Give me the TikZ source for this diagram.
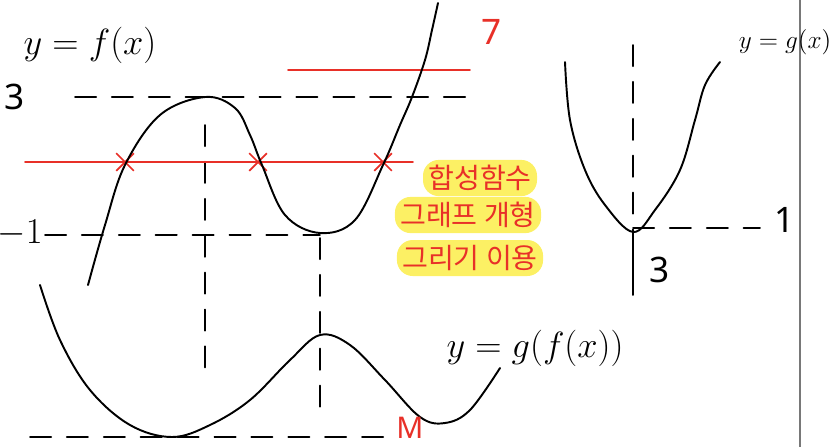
\documentclass[tikz,border=0pt]{standalone}
\usepackage{fontspec}
\setmainfont{Noto Sans}
\newfontfamily\krfont{Noto Sans CJK KR}
\usetikzlibrary{shapes.misc}
\definecolor{penred}{RGB}{232,48,40}
\definecolor{marker}{RGB}{252,240,100}
\definecolor{sheetline}{RGB}{120,120,120}

\begin{document}
\begin{tikzpicture}[
    x=0.02cm, y=-0.02cm,
    curve/.style={line width=1.1pt, line cap=round, line join=round},
    guide/.style={curve, dash pattern=on 12pt off 9pt},
    redline/.style={curve, draw=penred},
    hand/.style={font=\fontsize{20}{24}\selectfont, inner sep=1pt},
    redhand/.style={hand, text=penred},
    cut/.style={cross out, draw=penred, line width=1pt, minimum size=9pt, inner sep=0pt},
    note/.style={font=\krfont\fontsize{16}{20}\selectfont, text=penred, fill=marker, rounded corners=9pt, inner sep=3pt}
]
\useasboundingbox (0,0) rectangle (838,447);

% Guide lines
\draw[guide] (75,97) -- (470,97);
\draw[guide] (45,235) -- (320,235);
\draw[guide] (205,125) -- (205,380);
\draw[guide] (320,238) -- (320,420);
\draw[guide] (30,437) -- (395,437);

% Red levels
\draw[redline] (288,70) -- (470,70);
\draw[redline] (25,162) -- (413,162);
\node[cut] (c1) at (125,162) {};
\node[cut] (c2) at (258,162) {};
\node[cut] (c3) at (383,162) {};

% y = f(x)
\draw[curve] plot[smooth, tension=0.6] coordinates {
    (88,285) (105,225) (125,165) (160,115) (205,97) (235,108) (250,135)
    (262,165) (285,215) (320,233) (355,220) (383,165) (400,125) (412,97) (425,60) (432,30) (438,3)};

% y = g(f(x))
\draw[curve] plot[smooth, tension=0.6] coordinates {
    (40,285) (60,340) (90,390) (130,425) (172,437) (210,425) (250,400)
    (290,360) (320,335) (350,345) (385,380) (420,417) (445,423) (470,410) (500,368)};

% y = g(x)
\draw[guide] (633,45) -- (633,232);
\draw[curve] (633,232) -- (633,295);
\draw[guide] (633,228) -- (760,228);
\draw[curve] plot[smooth, tension=0.6] coordinates {
    (565,62) (570,120) (585,170) (605,205) (633,232) (655,210) (680,170) (695,120) (705,85) (720,62)};

% Sheet edge
\draw[sheetline, line width=0.8pt] (800,0) -- (800,447);

% Labels
\node[hand] (flabel) at (90,45) {$y=f(x)$};
\node[hand] (three) at (15,97) {3};
\node[hand] (minusone) at (20,233) {$-1$};
\node[redhand] (seven) at (492,32) {7};
\node[redhand, font=\fontsize{17}{20}\selectfont] (mlabel) at (410,428) {M};
\node[hand] (gflabel) at (535,348) {$y=g(f(x))$};
\node[hand, font=\fontsize{15}{18}\selectfont] (glabel) at (785,42) {$y=g(x)$};
\node[hand] (one) at (785,220) {1};
\node[hand] (gthree) at (660,270) {3};

% Note
\node[note] (note1) at (480,178) {합성함수};
\node[note] (note2) at (468,215) {그래프 개형};
\node[note] (note3) at (470,258) {그리기 이용};

\end{tikzpicture}
\end{document}
